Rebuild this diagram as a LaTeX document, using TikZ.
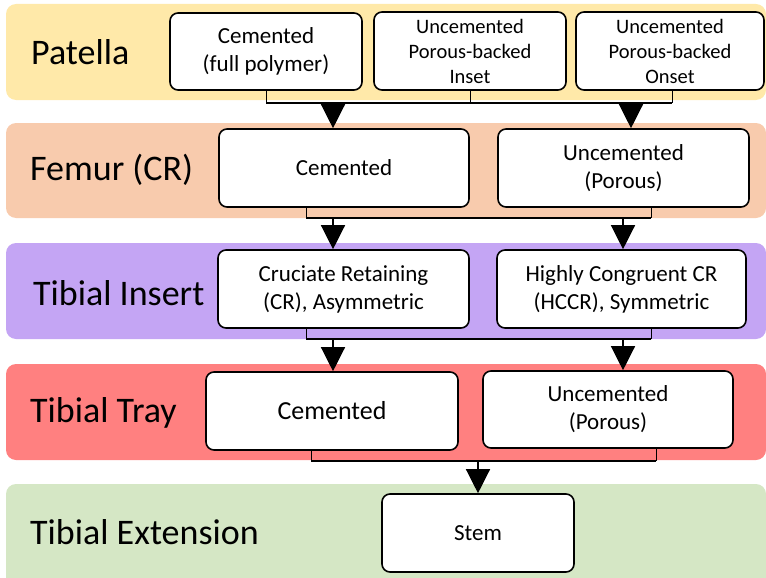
\documentclass[tikz,border=0pt]{standalone}
\usepackage{fontspec}
\setmainfont{Carlito}
\usetikzlibrary{arrows.meta}
\definecolor{patellaband}{RGB}{255,233,169}
\definecolor{femurband}{RGB}{248,203,173}
\definecolor{insertband}{RGB}{196,165,244}
\definecolor{trayband}{RGB}{255,128,128}
\definecolor{extband}{RGB}{213,231,197}
\begin{document}
\begin{tikzpicture}[x=1pt, y=-1pt,
  rowlabel/.style={anchor=west, inner sep=0pt, font=\fontsize{36}{43}\selectfont},
  choice/.style={rectangle, draw=black, line width=1.6pt, rounded corners=8pt, fill=white, align=center, inner sep=2pt, font=\fontsize{23}{28}\selectfont},
  small/.style={font=\fontsize{20.5}{25}\selectfont},
  bus/.style={line width=2.4pt},
  stub/.style={line width=0.9pt},
  feed/.style={-{Triangle[width=24pt,length=24pt]}, line width=1.3pt}]
\useasboundingbox (0,0) rectangle (766,578);

% bands
\fill[patellaband, rounded corners=10pt] (6,4) rectangle (766,100);
\fill[femurband, rounded corners=10pt] (6,123) rectangle (766,218);
\fill[insertband, rounded corners=10pt] (6,243) rectangle (766,339);
\fill[trayband, rounded corners=10pt] (6,364) rectangle (766,460);
\fill[extband, rounded corners=10pt] (6,484) rectangle (766,590);

\node[rowlabel] (patella) at (31,52) {Patella};
\node[rowlabel] (femur) at (30,170) {Femur (CR)};
\node[rowlabel] (insert) at (33,293) {Tibial Insert};
\node[rowlabel] (tray) at (30,413) {Tibial Tray};
\node[rowlabel] (ext) at (30,532) {Tibial Extension};

% boxes
\node[choice, minimum width=192pt, minimum height=77pt] (p1) at (266,51.5) {Cemented\\(full polymer)};
\node[choice, small, minimum width=192pt, minimum height=78pt] (p2) at (470,51) {Uncemented\\Porous-backed\\Inset};
\node[choice, small, minimum width=188pt, minimum height=78pt] (p3) at (670,51) {Uncemented\\Porous-backed\\Onset};
\node[choice, minimum width=250pt, minimum height=78pt] (f1) at (344,168) {Cemented};
\node[choice, minimum width=251pt, minimum height=78pt] (f2) at (623.5,168) {Uncemented\\(Porous)};
\node[choice, minimum width=251pt, minimum height=78pt] (i1) at (343.5,289) {Cruciate Retaining\\(CR), Asymmetric};
\node[choice, minimum width=249pt, minimum height=78pt] (i2) at (621.5,289) {Highly Congruent CR\\(HCCR), Symmetric};
\node[choice, font=\fontsize{26}{30}\selectfont, minimum width=252pt, minimum height=78pt] (t1) at (332,411) {Cemented};
\node[choice, minimum width=250pt, minimum height=77pt] (t2) at (608,409.5) {Uncemented\\(Porous)};
\node[choice, minimum width=192pt, minimum height=78pt] (stem) at (478,533) {Stem};

% connectors
\coordinate (pbusL) at (266,103);
\coordinate (pbusR) at (672,103);
\coordinate (pfeedL) at (333,103);
\coordinate (pfeedR) at (631,103);
\draw[stub] (p1.south) -- (p1.south |- pbusL);
\draw[stub] (p2.south) -- (p2.south |- pbusL);
\draw[stub] (p3.south -| pbusR) -- (pbusR);
\draw[bus] (pbusL) -- (pbusR);
\draw[feed] (pfeedL) -- (pfeedL |- f1.north);
\draw[feed] (pfeedR) -- (pfeedR |- f2.north);

\coordinate (fbusL) at (306,218);
\coordinate (fbusR) at (651,218);
\coordinate (ffeedL) at (333,218);
\coordinate (ffeedR) at (623,218);
\draw[stub] (f1.south -| fbusL) -- (fbusL);
\draw[stub] (f2.south -| fbusR) -- (fbusR);
\draw[bus] (fbusL) -- (fbusR);
\draw[feed] (ffeedL) -- (ffeedL |- i1.north);
\draw[feed] (ffeedR) -- (ffeedR |- i2.north);

\coordinate (ibusL) at (306,339);
\coordinate (ibusR) at (651,339);
\coordinate (ifeedL) at (333,339);
\coordinate (ifeedR) at (623,339);
\draw[stub] (i1.south -| ibusL) -- (ibusL);
\draw[stub] (i2.south -| ibusR) -- (ibusR);
\draw[bus] (ibusL) -- (ibusR);
\draw[feed] (ifeedL) -- (ifeedL |- t1.north);
\draw[feed] (ifeedR) -- (ifeedR |- t2.north);

\coordinate (tbusL) at (311,461);
\coordinate (tbusR) at (656,461);
\coordinate (tfeed) at (478,461);
\draw[stub] (t1.south -| tbusL) -- (tbusL);
\draw[stub] (t2.south -| tbusR) -- (tbusR);
\draw[bus] (tbusL) -- (tbusR);
\draw[feed] (tfeed) -- (stem.north);
\end{tikzpicture}
\end{document}
